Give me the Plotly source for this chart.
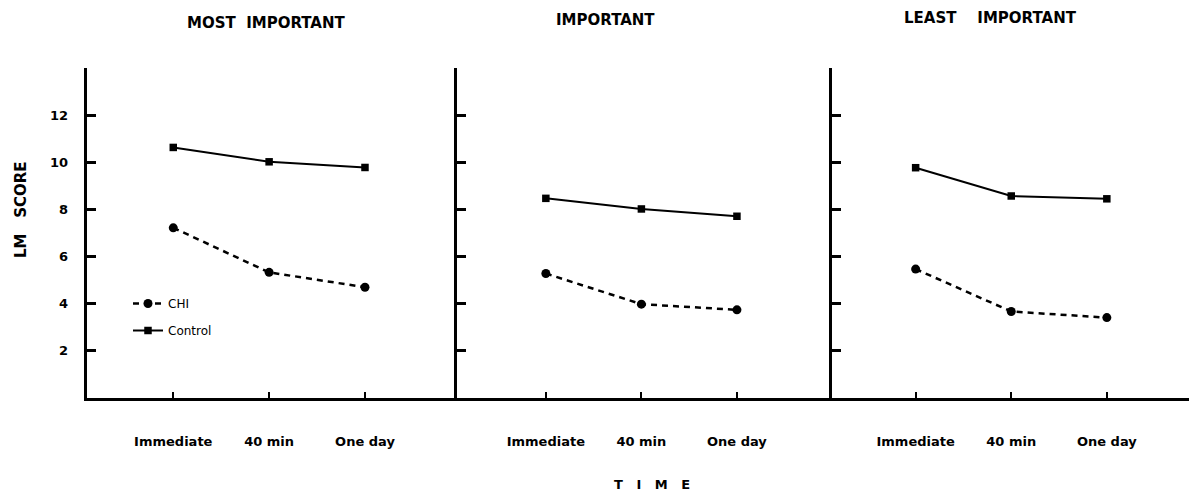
import plotly.graph_objects as go

# ---- data ----
times = ["Immediate", "40 min", "One day"]
panels = ["MOST  IMPORTANT", "IMPORTANT", "LEAST    IMPORTANT"]
chi_most = [7.22, 5.33, 4.70]
ctrl_most = [10.63, 10.02, 9.78]
chi_imp = [5.28, 3.98, 3.74]
ctrl_imp = [8.47, 8.02, 7.71]
chi_least = [5.47, 3.67, 3.41]
ctrl_least = [9.77, 8.57, 8.45]
y_ticks = [2, 4, 6, 8, 10, 12]

# page body has an 8px margin: size figure so it fills the 1197x492 window
OFF = 8
W, H = 1197 - OFF, 492 - OFF
FONT = "DejaVu Sans"


def px2x(px):
    return (px - OFF) / W


def py2y(py):
    return 1 - (py - OFF) / H


fig = go.Figure()

series = [(chi_most, ctrl_most), (chi_imp, ctrl_imp), (chi_least, ctrl_least)]
for i, (chi, ctrl) in enumerate(series):
    xa = "x" if i == 0 else f"x{i+1}"
    ya = "y" if i == 0 else f"y{i+1}"
    fig.add_trace(go.Scatter(
        x=times, y=chi, xaxis=xa, yaxis=ya, mode="lines+markers", name="CHI",
        legendgroup="CHI", showlegend=(i == 0),
        line=dict(color="black", width=2.5, dash="6px,5px"),
        marker=dict(symbol="circle", size=9, color="black")))
    fig.add_trace(go.Scatter(
        x=times, y=ctrl, xaxis=xa, yaxis=ya, mode="lines+markers", name="Control",
        legendgroup="Control", showlegend=(i == 0),
        line=dict(color="black", width=2),
        marker=dict(symbol="square", size=7.5, color="black")))

# empty helper trace so that the label-carrying free y axis is drawn
fig.add_trace(go.Scatter(x=[], y=[], xaxis="x", yaxis="y4", mode="lines",
                         showlegend=False, hoverinfo="skip"))

# panel geometry in window pixels
x_dom_px = [(87, 457), (457, 832), (832, 1190)]
x_ranges = [[-0.90, 2.96], [-0.93, 2.995], [-0.875, 2.87]]
y_dom = [py2y(398), py2y(68)]

layout = dict(
    width=W, height=H,
    margin=dict(l=0, r=0, t=0, b=0, autoexpand=False),
    paper_bgcolor="white", plot_bgcolor="white",
    showlegend=True,
    legend=dict(x=px2x(128), y=py2y(289), xanchor="left", yanchor="top",
                font=dict(family=FONT, size=12, color="black"),
                bgcolor="rgba(0,0,0,0)", traceorder="grouped", tracegroupgap=8),
)

for i in range(3):
    sx = "" if i == 0 else str(i + 1)
    d0, d1 = x_dom_px[i]
    layout[f"xaxis{sx}"] = dict(
        domain=[px2x(d0), px2x(d1)], range=x_ranges[i], type="category",
        anchor=f"y{sx}", showline=True, linecolor="black", linewidth=2.5,
        ticks="inside", ticklen=6, tickwidth=2, tickcolor="black",
        showgrid=False, zeroline=False, ticklabelstandoff=30,
        tickfont=dict(family=FONT, size=13, color="black", weight="bold"),
        automargin=False, fixedrange=True)
    layout[f"yaxis{sx}"] = dict(
        domain=y_dom, range=[0, 14], anchor=f"x{sx}",
        showline=True, linecolor="black", linewidth=3,
        ticks="inside", ticklen=9, tickwidth=2.5, tickcolor="black",
        tickvals=y_ticks, showticklabels=False,
        showgrid=False, zeroline=False,
        automargin=False, fixedrange=True)

# free axis carrying the y tick labels, set a little to the left of the first axis
layout["yaxis4"] = dict(
    domain=y_dom, range=[0, 14], anchor="free", overlaying="y",
    position=px2x(68), side="left",
    showline=False, ticks="", tickvals=y_ticks, showticklabels=True,
    showgrid=False, zeroline=False,
    tickfont=dict(family=FONT, size=13, color="black", weight="bold"),
    automargin=False, fixedrange=True)

fig.update_layout(**layout)

title_pos = [(266, 23), (606, 20), (990, 18)]
for name, (px, py) in zip(panels, title_pos):
    fig.add_annotation(text=name, x=px2x(px), y=py2y(py), xref="paper", yref="paper",
                       showarrow=False, xanchor="center", yanchor="middle",
                       font=dict(family=FONT, size=15, color="black", weight="bold"))

fig.add_annotation(text="T   I   M   E", x=px2x(652), y=py2y(484), xref="paper", yref="paper",
                   showarrow=False, xanchor="center", yanchor="middle",
                   font=dict(family=FONT, size=13, color="black", weight="bold"))
fig.add_annotation(text="LM   SCORE", x=px2x(21), y=py2y(210), xref="paper", yref="paper",
                   showarrow=False, xanchor="center", yanchor="middle", textangle=-90,
                   font=dict(family=FONT, size=15, color="black", weight="bold"))

fig.write_html("out.html")
